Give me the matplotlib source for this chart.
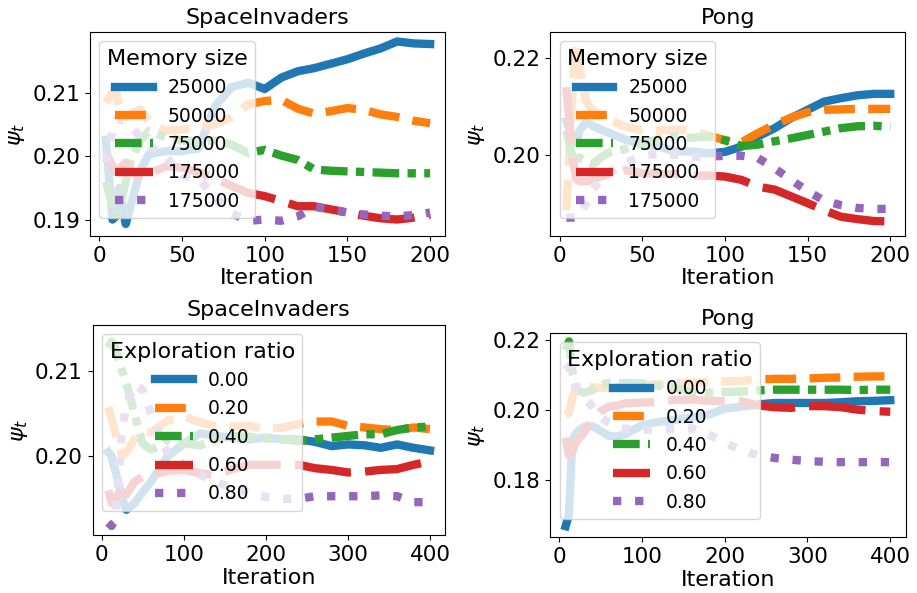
import matplotlib
matplotlib.use("Agg")
import matplotlib.pyplot as plt

# iterations (shared x per row)
iters_mem = [4, 8, 10, 12, 16, 20, 25, 30, 40, 50, 60, 70, 80, 90, 100,
             110, 120, 130, 140, 150, 160, 170, 180, 190, 200]
iters_exp = [8, 12, 16, 20, 25, 30, 40, 50, 60, 70, 80, 100, 120, 140, 160,
             180, 200, 220, 240, 260, 280, 300, 320, 340, 360, 380, 400]

mem_labels = ["25000", "50000", "75000", "175000", "175000"]
exp_labels = ["0.00", "0.20", "0.40", "0.60", "0.80"]

# SpaceInvaders, memory size
si_mem_25000 = [0.2026, 0.1900, 0.1905, 0.1950, 0.1893, 0.1932, 0.1979, 0.2003, 0.2008, 0.2008,
                0.2012, 0.2079, 0.2109, 0.2116, 0.2106, 0.2124, 0.2134, 0.2139, 0.2146, 0.2153,
                0.2162, 0.2170, 0.2181, 0.2178, 0.2177]
si_mem_50000 = [0.2085, 0.2100, 0.2104, 0.2080, 0.2062, 0.2068, 0.2074, 0.2055, 0.2040, 0.2042,
                0.2045, 0.2050, 0.2062, 0.2082, 0.2087, 0.2089, 0.2075, 0.2067, 0.2071, 0.2076,
                0.2073, 0.2066, 0.2062, 0.2056, 0.2052]
si_mem_75000 = [0.1960, 0.1920, 0.1905, 0.1915, 0.1960, 0.2000, 0.2025, 0.2040, 0.2030, 0.2025,
                0.2022, 0.2025, 0.2018, 0.2005, 0.2010, 0.2001, 0.1994, 0.1979, 0.1977, 0.1976,
                0.1975, 0.1974, 0.1973, 0.1973, 0.1973]
si_mem_175000a = [0.2005, 0.1985, 0.1975, 0.1980, 0.1990, 0.1975, 0.1968, 0.1972, 0.1984, 0.1982,
                  0.1975, 0.1965, 0.1953, 0.1942, 0.1937, 0.1929, 0.1921, 0.1921, 0.1916, 0.1911,
                  0.1906, 0.1902, 0.1900, 0.1903, 0.1908]
si_mem_175000b = [0.1990, 0.2040, 0.2058, 0.2058, 0.2055, 0.2045, 0.2030, 0.2018, 0.2000, 0.1970,
                  0.1965, 0.1935, 0.1910, 0.1898, 0.1900, 0.1898, 0.1905, 0.1920, 0.1916, 0.1911,
                  0.1908, 0.1906, 0.1905, 0.1907, 0.1911]

# Pong, memory size
pong_mem_25000 = [0.2070, 0.2030, 0.2024, 0.2050, 0.2068, 0.2060, 0.2052, 0.2045, 0.2031, 0.2021,
                  0.2017, 0.2007, 0.2007, 0.2003, 0.2006, 0.2017, 0.2038, 0.2055, 0.2076, 0.2093,
                  0.2110, 0.2117, 0.2123, 0.2126, 0.2126]
pong_mem_50000 = [0.1885, 0.2150, 0.2235, 0.2180, 0.2110, 0.2092, 0.2080, 0.2072, 0.2058, 0.2050,
                  0.2050, 0.2052, 0.2050, 0.2040, 0.2030, 0.2026, 0.2045, 0.2062, 0.2077, 0.2088,
                  0.2093, 0.2094, 0.2095, 0.2095, 0.2095]
pong_mem_75000 = [0.2050, 0.1990, 0.1985, 0.1995, 0.1985, 0.1980, 0.1995, 0.2005, 0.2012, 0.2025,
                  0.2032, 0.2038, 0.2035, 0.2038, 0.2030, 0.2018, 0.2021, 0.2028, 0.2034, 0.2041,
                  0.2048, 0.2055, 0.2059, 0.2060, 0.2058]
pong_mem_175000a = [0.2140, 0.1990, 0.1950, 0.1945, 0.1945, 0.1948, 0.1955, 0.1960, 0.1968, 0.1962,
                    0.1960, 0.1960, 0.1957, 0.1957, 0.1955, 0.1948, 0.1934, 0.1928, 0.1914, 0.1900,
                    0.1885, 0.1872, 0.1867, 0.1863, 0.1862]
pong_mem_175000b = [0.1870, 0.1870, 0.1870, 0.1872, 0.1900, 0.1928, 0.1950, 0.1962, 0.1983, 0.1998,
                    0.2002, 0.2000, 0.1996, 0.1996, 0.1998, 0.1998, 0.1993, 0.1972, 0.1948, 0.1925,
                    0.1905, 0.1896, 0.1890, 0.1888, 0.1888]

# SpaceInvaders, exploration ratio
si_exp_000 = [0.2005, 0.2000, 0.1985, 0.1970, 0.1950, 0.1937, 0.1945, 0.1958, 0.1970, 0.1985,
              0.2000, 0.2015, 0.2027, 0.2024, 0.2022, 0.2020, 0.2022, 0.2020, 0.2020, 0.2017,
              0.2012, 0.2014, 0.2013, 0.2010, 0.2014, 0.2010, 0.2007]
si_exp_020 = [0.2058, 0.2045, 0.2030, 0.2015, 0.2000, 0.2005, 0.2020, 0.2030, 0.2028, 0.2035,
              0.2042, 0.2047, 0.2040, 0.2035, 0.2035, 0.2036, 0.2032, 0.2034, 0.2038, 0.2041,
              0.2041, 0.2036, 0.2034, 0.2032, 0.2031, 0.2034, 0.2032]
si_exp_040 = [0.2128, 0.2135, 0.2130, 0.2115, 0.2100, 0.2085, 0.2050, 0.2015, 0.2008, 0.2012,
              0.2020, 0.2015, 0.2013, 0.2020, 0.2024, 0.2023, 0.2021, 0.2020, 0.2018, 0.2020,
              0.2022, 0.2024, 0.2026, 0.2026, 0.2031, 0.2034, 0.2035]
si_exp_060 = [0.1960, 0.1945, 0.1950, 0.1955, 0.1957, 0.1955, 0.1970, 0.1976, 0.1978, 0.1980,
              0.1983, 0.1984, 0.1980, 0.1978, 0.1985, 0.1990, 0.1990, 0.1990, 0.1990, 0.1986,
              0.1984, 0.1981, 0.1982, 0.1984, 0.1985, 0.1990, 0.1994]
si_exp_080 = [0.1922, 0.1918, 0.1925, 0.1970, 0.2035, 0.2060, 0.2085, 0.2078, 0.2050, 0.2025,
              0.2005, 0.1990, 0.1978, 0.1970, 0.1962, 0.1957, 0.1952, 0.1950, 0.1950, 0.1953,
              0.1953, 0.1953, 0.1953, 0.1954, 0.1953, 0.1946, 0.1946]

# Pong, exploration ratio
pong_exp_000 = [0.1667, 0.1700, 0.1910, 0.1930, 0.1943, 0.1950, 0.1953, 0.1940, 0.1925, 0.1923,
                0.1930, 0.1955, 0.1965, 0.1970, 0.1978, 0.1985, 0.2003, 0.2008, 0.2015, 0.2019,
                0.2019, 0.2019, 0.2019, 0.2021, 0.2024, 0.2025, 0.2027]
pong_exp_020 = [0.1985, 0.1990, 0.2035, 0.2060, 0.2070, 0.2068, 0.2064, 0.2062, 0.2062, 0.2064,
                0.2068, 0.2071, 0.2072, 0.2076, 0.2077, 0.2080, 0.2081, 0.2082, 0.2086, 0.2088,
                0.2088, 0.2089, 0.2091, 0.2092, 0.2094, 0.2095, 0.2095]
pong_exp_040 = [0.2170, 0.2195, 0.2110, 0.2065, 0.2052, 0.2048, 0.2055, 0.2072, 0.2076, 0.2076,
                0.2076, 0.2075, 0.2067, 0.2062, 0.2050, 0.2048, 0.2050, 0.2052, 0.2055, 0.2057,
                0.2057, 0.2057, 0.2057, 0.2057, 0.2056, 0.2057, 0.2057]
pong_exp_060 = [0.1920, 0.1870, 0.1880, 0.1905, 0.1920, 0.1935, 0.1970, 0.1995, 0.2008, 0.2012,
                0.2018, 0.2020, 0.2022, 0.2028, 0.2029, 0.2025, 0.2024, 0.2024, 0.2012, 0.2007,
                0.2005, 0.2010, 0.2010, 0.2007, 0.2000, 0.1996, 0.1994]
pong_exp_080 = [0.2130, 0.2120, 0.2095, 0.2070, 0.2050, 0.2035, 0.2010, 0.1980, 0.1962, 0.1950,
                0.1945, 0.1943, 0.1943, 0.1945, 0.1947, 0.1930, 0.1905, 0.1885, 0.1870, 0.1862,
                0.1857, 0.1853, 0.1851, 0.1850, 0.1850, 0.1850, 0.1850]

colors = ["#1f77b4", "#ff7f0e", "#2ca02c", "#d62728", "#9467bd"]
styles = ["-", "--", (0, (3.2, 1, 1, 1)), (0, (6.8, 1.7)), ":"]

W, H = 917, 593
fig = plt.figure(figsize=(W / 100, H / 100), dpi=100)


def px_axes(l, t, r, b):
    return fig.add_axes([l / W, 1 - b / H, (r - l) / W, (b - t) / H])


panels = [
    ((90, 32, 445, 236), "SpaceInvaders", iters_mem,
     [si_mem_25000, si_mem_50000, si_mem_75000, si_mem_175000a, si_mem_175000b],
     mem_labels, "Memory size", (-5.6, 209), (0.1874, 0.2196), [0.19, 0.20, 0.21]),
    ((550.3, 32, 905.3, 236), "Pong", iters_mem,
     [pong_mem_25000, pong_mem_50000, pong_mem_75000, pong_mem_175000a, pong_mem_175000b],
     mem_labels, "Memory size", (-5.7, 209.1), (0.1832, 0.2254), [0.20, 0.22]),
    ((92.7, 324.7, 445, 535.3), "SpaceInvaders", iters_exp,
     [si_exp_000, si_exp_020, si_exp_040, si_exp_060, si_exp_080],
     exp_labels, "Exploration ratio", (-11, 418.3), (0.1907, 0.2155), [0.20, 0.21]),
    ((550.3, 333, 905.7, 537), "Pong", iters_exp,
     [pong_exp_000, pong_exp_020, pong_exp_040, pong_exp_060, pong_exp_080],
     exp_labels, "Exploration ratio", (-10.5, 418.6), (0.1636, 0.2219), [0.18, 0.20, 0.22]),
]

for box, title, xs, series, labels, ltitle, xl, yl, yt in panels:
    ax = px_axes(*box)
    for ys, lab, c, ls in zip(series, labels, colors, styles):
        ax.plot(xs, ys, color=c, linestyle=ls, linewidth=6, label=lab)
    ax.set_xlim(*xl)
    ax.set_ylim(*yl)
    ax.set_yticks(yt)
    ax.set_yticklabels(["%.2f" % v for v in yt])
    ax.tick_params(labelsize=15.5)
    ax.set_title(title, fontsize=16)
    ax.set_xlabel("Iteration", fontsize=16, labelpad=2)
    ax.set_ylabel(r"$\psi_t$", fontsize=16)
    leg = ax.legend(loc="upper left", fontsize=13.5, title=ltitle, title_fontsize=16)

fig.savefig("out.png", dpi=100)
